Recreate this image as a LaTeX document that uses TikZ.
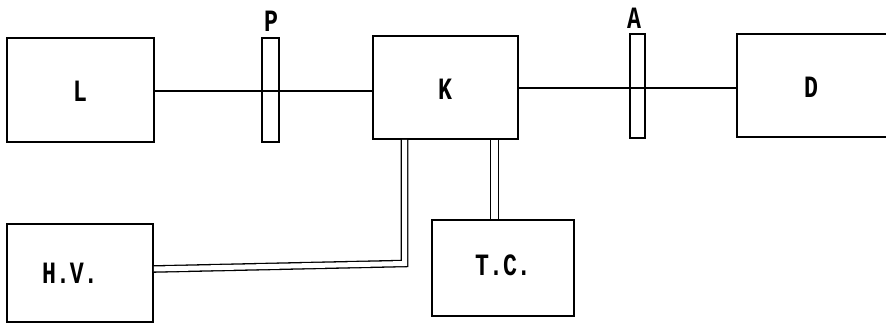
\documentclass[tikz,border=0pt]{standalone}
\usepackage{fontspec}
\newfontfamily\labfont{Liberation Mono}[FakeStretch=0.75]
\begin{document}
\begin{tikzpicture}[x=1pt,y=-1pt,
  box/.style={draw, line width=1.7pt, inner sep=0pt, rectangle},
  wire/.style={line width=1.8pt},
  dwire/.style={double, double distance=5pt, line width=1.3pt},
  lab/.style={font=\labfont\bfseries\fontsize{31}{31}\selectfont, inner sep=0pt}]
\useasboundingbox (0,0) rectangle (886,326);
% boxes
\node[box, minimum width=147pt, minimum height=104pt] (L) at (80.5,90) {};
\node[box, minimum width=17pt, minimum height=104pt] (P) at (270.5,90) {};
\node[box, minimum width=145pt, minimum height=103pt] (K) at (445.5,87.5) {};
\node[box, minimum width=15pt, minimum height=104pt] (A) at (637.5,86) {};
\node[box, minimum width=180pt, minimum height=103pt] (D) at (827,85.5) {};
\node[box, minimum width=146pt, minimum height=98pt] (HV) at (80,273) {};
\node[box, minimum width=142pt, minimum height=96pt] (TC) at (503,268) {};
% labels
\node[lab] (Lt) at (80,91) {L};
\node[lab] (Kt) at (445,89) {K};
\node[lab] (Dt) at (811,87) {D};
\node[lab] (HVt) at (70,273) {H.V.};
\node[lab] (TCt) at (503,265) {T.C.};
\node[lab] (Pt) at (271,21) {P};
\node[lab] (At) at (634,18) {A};
% connectors
\draw[wire] (L.east |- 0,91) -- (K.west |- 0,91);
\draw[wire] (K.east |- 0,88) -- (D.west |- 0,88);
\coordinate (c1) at (404.5,263.5);
\coordinate (c2) at (HV.east |- 0,269);
\draw[dwire] (K.south -| c1) -- (c1) -- (c2);
\draw[dwire, double distance=6.5pt] (K.south -| 494.5,0) -- (TC.north -| 494.5,0);
\end{tikzpicture}
\end{document}
